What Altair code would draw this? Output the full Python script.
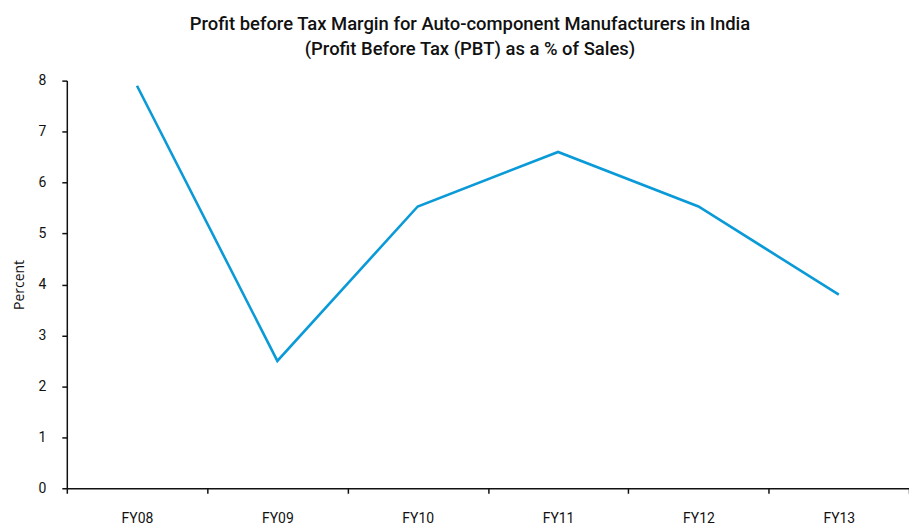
import altair as alt
import pandas as pd

years = ["FY08", "FY09", "FY10", "FY11", "FY12", "FY13"]
pbt_margin = [7.9, 2.5, 5.53, 6.6, 5.53, 3.8]

df = pd.DataFrame({"year": years, "pbt": pbt_margin})

chart = alt.Chart(df).mark_line(color="#0A9AD8", strokeWidth=2.6).encode(
    x=alt.X("year:N", sort=years, bandPosition=0.5,
            scale=alt.Scale(type="band", paddingInner=0, paddingOuter=0),
            axis=alt.Axis(title=None, tickBand="extent", labelAngle=0,
                          labelFontSize=14, labelFont="Roboto", labelColor="#111",
                          labelPadding=18, tickSize=5, tickColor="#111",
                          domainColor="#111", domainWidth=1.5, tickWidth=1.5,
                          grid=False)),
    y=alt.Y("pbt:Q", scale=alt.Scale(domain=[0, 8], nice=False),
            axis=alt.Axis(title="Percent", values=list(range(0, 9)),
                          labelFontSize=14, labelFont="Roboto", labelColor="#111",
                          labelPadding=16, tickSize=5, tickColor="#111",
                          domainColor="#111", domainWidth=1.5, tickWidth=1.5,
                          titleFont="Open Sans", titleFontSize=14,
                          titleFontWeight="normal", titleColor="#111",
                          titlePadding=12, grid=False)),
).properties(
    width=845,
    height=409,
    title=alt.TitleParams(
        text=["Profit before Tax Margin for Auto-component Manufacturers in India",
              "(Profit Before Tax (PBT) as a % of Sales)"],
        font="Roboto", fontSize=18.5, fontWeight=500,
        color="#111", lineHeight=25, anchor="middle", offset=15, dx=-18,
    ),
    padding={"left": 59, "top": 72, "right": 0, "bottom": 36},
    autosize=alt.AutoSizeParams(type="none"),
).configure_view(stroke=None)

chart.save("out.html", embed_options={"renderer": "svg", "actions": False})
